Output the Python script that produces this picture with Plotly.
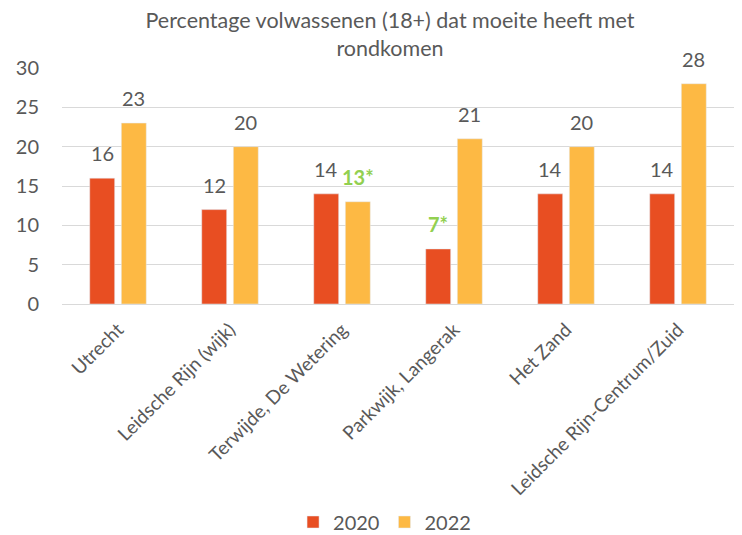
import plotly.graph_objects as go

categories = ["Utrecht", "Leidsche Rijn (wijk)", "Terwijde, De Wetering",
              "Parkwijk, Langerak", "Het Zand", "Leidsche Rijn-Centrum/Zuid"]
values_2020 = [16, 12, 14, 7, 14, 14]
values_2022 = [23, 20, 13, 21, 20, 28]
labels_2020 = ["16", "12", "14", "<b>7*</b>", "14", "14"]
labels_2022 = ["23", "20", "<b>13*</b>", "21", "20", "28"]
tick_vals = [0, 5, 10, 15, 20, 25, 30]

GREY = "#595959"
GREEN = "#92D050"
FONT = "Lato"

W, H = 742, 535
ML, MR, MT, MB = 62, 8, 68, 231
BARGAP, GROUPGAP = 0.436, 0.21

fig = go.Figure()
fig.add_trace(go.Bar(x=categories, y=values_2020, name="2020",
                     marker=dict(color="#E84E22")))
fig.add_trace(go.Bar(x=categories, y=values_2022, name="2022",
                     marker=dict(color="#FDB944")))

# data labels placed above each bar via axis coordinates
cat_w = (W - ML - MR) / len(categories)
slot = cat_w * (1 - BARGAP) / 2
for shift, vals, labs in ((-slot / 2, values_2020, labels_2020),
                          (slot / 2, values_2022, labels_2022)):
    for c, v, t in zip(categories, vals, labs):
        fig.add_annotation(x=c, y=v, text=t, showarrow=False,
                           xanchor="center", yanchor="bottom",
                           xshift=shift, yshift=11,
                           font=dict(size=20, family=FONT,
                                     color=GREEN if "*" in t else GREY))

fig.update_layout(
    width=W, height=H,
    paper_bgcolor="white", plot_bgcolor="white",
    font=dict(family=FONT, color=GREY, size=18),
    title=dict(text="Percentage volwassenen (18+) dat moeite heeft met<br>rondkomen",
               x=390 / 742, xanchor="center", yref="container", y=1 - 28 / 535,
               yanchor="middle", automargin=False,
               font=dict(size=21.5, color=GREY, family=FONT)),
    margin=dict(l=ML, r=MR, t=MT, b=MB, autoexpand=False),
    barmode="group", bargap=BARGAP, bargroupgap=GROUPGAP,
    legend=dict(orientation="h", x=0.48, xanchor="center", yref="container",
                y=13 / 535, yanchor="middle", itemwidth=30,
                font=dict(size=20, color=GREY), traceorder="normal"),
    showlegend=True,
)
fig.update_yaxes(range=[0, 30], tickvals=tick_vals, showgrid=True, gridcolor="#D9D9D9",
                 gridwidth=1.3, zeroline=False, showline=False, ticks="",
                 automargin=False,
                 tickfont=dict(size=20, color=GREY), ticklabelstandoff=22)
fig.update_xaxes(tickangle=-45, showline=True, linecolor="#D9D9D9", linewidth=1.3,
                 ticks="", automargin=False, ticklabelstandoff=6,
                 tickfont=dict(size=19, color=GREY))

fig.write_html("out.html", config={"displayModeBar": False},
               post_script="document.body.style.margin='0';")
